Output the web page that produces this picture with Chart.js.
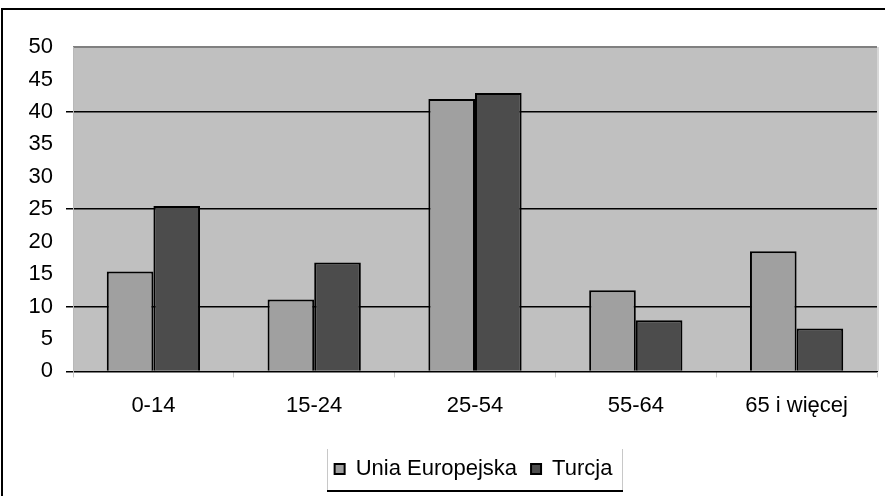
<!DOCTYPE html>
<html><head><meta charset="utf-8">
<script src="https://cdn.jsdelivr.net/npm/chart.js@4/dist/chart.umd.min.js"></script>
<style>html,body{margin:0;padding:0;background:#fff}#wrap{width:885px;height:496px}</style>
</head><body><div id="wrap"><canvas id="c" width="885" height="496"></canvas></div>
<script>
const categories = ['0-14', '15-24', '25-54', '55-64', '65 i więcej'];
const seriesNames = ['Unia Europejska', 'Turcja'];
const euValues = [15.4, 11.1, 42.0, 12.5, 18.5];
const trValues = [25.5, 16.8, 42.9, 7.9, 6.6];
const yTicks = [0, 5, 10, 15, 20, 25, 30, 35, 40, 45, 50];
const gridValues = [0, 10, 25, 40];

const FONT = 'Liberation Sans, Arial, sans-serif';
const FS = 22;

const decor = {
  id: 'decor',
  afterLayout(chart) {
    const lg = chart.legend;
    const target = 473.5;
    const d = target - (lg.left + lg.right) / 2;
    lg.left += d; lg.right += d;
  },
  beforeDraw(chart) {
    const {ctx, chartArea: a} = chart;
    ctx.save();
    ctx.fillStyle = '#c0c0c0';
    ctx.fillRect(a.left, a.top, a.right - a.left, a.bottom - a.top);
    ctx.strokeStyle = '#808080';
    ctx.lineWidth = 2;
    ctx.beginPath();
    ctx.moveTo(a.left, a.top); ctx.lineTo(a.right, a.top);
    ctx.stroke();
    ctx.strokeStyle = '#d8d8d8';
    ctx.lineWidth = 2;
    ctx.beginPath();
    ctx.moveTo(a.right + 1, a.top); ctx.lineTo(a.right + 1, a.bottom);
    ctx.stroke();
    ctx.restore();
  },
  afterDraw(chart) {
    const ctx = chart.ctx;
    ctx.save();
    ctx.strokeStyle = '#000';
    ctx.lineWidth = 2;
    ctx.strokeRect(2, 9, 1000, 1000);
    const hb = chart.legend.legendHitBoxes;
    if (hb && hb.length) {
      const l = Math.round(Math.min(...hb.map(h => h.left)) - 8);
      const r = Math.round(Math.max(...hb.map(h => h.left + h.width)) + 10);
      const t = 449, b = 491;
      ctx.lineWidth = 1;
      ctx.strokeStyle = '#c8c8c8';
      ctx.beginPath();
      ctx.moveTo(l + 0.5, t); ctx.lineTo(l + 0.5, b);
      ctx.moveTo(r + 0.5, t); ctx.lineTo(r + 0.5, b);
      ctx.stroke();
      ctx.strokeStyle = '#000';
      ctx.lineWidth = 2;
      ctx.beginPath();
      ctx.moveTo(l, b); ctx.lineTo(r + 1, b);
      ctx.stroke();
    }
    ctx.restore();
  }
};

new Chart(document.getElementById('c'), {
  type: 'bar',
  data: {
    labels: categories,
    datasets: [
      { label: seriesNames[0], data: euValues, backgroundColor: '#a0a0a0', borderColor: '#000', borderWidth: 2, borderSkipped: 'bottom' },
      { label: seriesNames[1], data: trValues, backgroundColor: '#4c4c4c', borderColor: '#000', borderWidth: 2, borderSkipped: 'bottom' }
    ]
  },
  options: {
    responsive: false,
    animation: false,
    devicePixelRatio: 1,
    layout: { padding: { left: 0, right: 8, top: 47, bottom: 6 } },
    datasets: { bar: { categoryPercentage: 0.58, barPercentage: 1.0 } },
    scales: {
      x: {
        offset: true,
        grid: { offset: true, drawOnChartArea: false, drawTicks: true, tickLength: 6, color: '#c8c8c8' },
        border: { display: true, color: '#000', width: 1 },
        ticks: { color: '#000', font: { family: FONT, size: FS }, padding: 15 },
        afterFit(s) { s.height = 72.6; }
      },
      y: {
        min: 0, max: 50,
        afterBuildTicks(s) { s.ticks = yTicks.map(v => ({ value: v })); },
        grid: {
          color: c => gridValues.includes(c.tick.value) ? '#000' : 'rgba(0,0,0,0)',
          lineWidth: 1.5,
          tickLength: 7,
          drawTicks: true
        },
        border: { display: true, color: '#b8b8b8', width: 1 },
        ticks: { color: '#000', font: { family: FONT, size: FS }, padding: 13 },
        afterFit(s) { s.width = 73; }
      }
    },
    plugins: {
      legend: {
        position: 'bottom',
        labels: { color: '#000', font: { family: FONT, size: FS }, boxWidth: 10, boxHeight: 10, padding: 14, borderWidth: 1 }
      },
      tooltip: { enabled: false }
    }
  },
  plugins: [decor]
});
</script></body></html>
